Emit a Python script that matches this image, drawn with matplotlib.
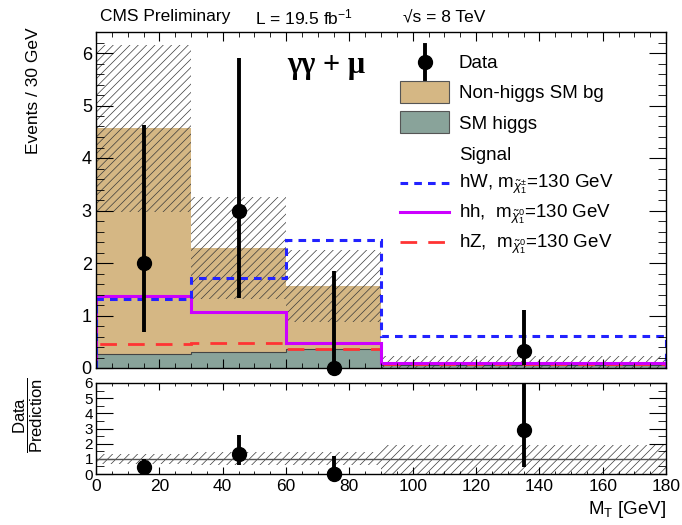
import numpy as np
import matplotlib
matplotlib.use("Agg")
import matplotlib.pyplot as plt
from matplotlib.patches import Rectangle
from matplotlib.lines import Line2D
from matplotlib.ticker import MultipleLocator

plt.rcParams['font.family'] = ['Liberation Sans', 'DejaVu Sans']
plt.rcParams['mathtext.fontset'] = 'custom'
plt.rcParams['mathtext.rm'] = 'Liberation Sans'
plt.rcParams['mathtext.it'] = 'Liberation Sans:italic'
plt.rcParams['hatch.linewidth'] = 0.5

# M_T binning (GeV)
edges = np.array([0, 30, 60, 90, 180])
centers = np.array([15, 45, 75, 135])

# backgrounds, events / 30 GeV
sm_higgs = np.array([0.27, 0.30, 0.36, 0.05])
non_higgs = np.array([4.31, 1.99, 1.21, 0.065])
unc_lo = np.array([2.98, 1.31, 0.88, 0.0])
unc_hi = np.array([6.15, 3.26, 2.25, 0.22])

# signal, m = 130 GeV
sig_hw = np.array([1.31, 1.71, 2.43, 0.61])
sig_hh = np.array([1.37, 1.07, 0.47, 0.10])
sig_hz = np.array([0.45, 0.47, 0.36, 0.07])

# observed
data = np.array([2.0, 3.0, 0.0, 0.33])
data_lo = np.array([0.68, 1.34, 0.0, 0.05])
data_hi = np.array([4.63, 5.9, 1.85, 1.1])

tan = '#d5b784'
green = '#89a39a'
blue = '#2222ff'
mag = '#cc00ff'
red = '#ff3333'

fig = plt.figure(figsize=(6.82, 5.25), dpi=100)
W, H = 682.0, 525.0
ax = fig.add_axes([96/W, 1-368/H, 570/W, 336/H])
rax = fig.add_axes([96/W, 1-474/H, 570/W, 91/H])

total = sm_higgs + non_higgs

# stacked backgrounds
ax.stairs(sm_higgs, edges, baseline=0, fill=True, color=green, lw=0)
ax.stairs(total, edges, baseline=sm_higgs, fill=True, color=tan, lw=0)
ax.stairs(sm_higgs, edges, baseline=None, color='#444444', lw=0.8)

# background uncertainty
ax.bar(edges[:-1], unc_hi - unc_lo, width=np.diff(edges), bottom=unc_lo,
       align='edge', fill=False, hatch='////', edgecolor='#3a3a3a', lw=0)

# signals
ax.stairs(sig_hz, edges, baseline=0, color=red, lw=2.0, ls=(0, (6, 4)))
ax.stairs(sig_hh, edges, baseline=0, color=mag, lw=2.2)
ax.stairs(sig_hw, edges, baseline=0, color=blue, lw=2.2, ls=(0, (2.5, 2)))

ax.errorbar(centers, data, yerr=[data - data_lo, data_hi - data], fmt='o',
            color='k', ms=10, elinewidth=2.8, capsize=0, zorder=5, clip_on=False)

ax.set_xlim(0, 180)
ax.set_ylim(0, 6.4)
ax.xaxis.set_major_locator(MultipleLocator(20))
ax.xaxis.set_minor_locator(MultipleLocator(5))
ax.yaxis.set_major_locator(MultipleLocator(1))
ax.yaxis.set_minor_locator(MultipleLocator(0.2))
ax.tick_params(which='both', direction='in', top=True, right=True, labelbottom=False,
               labelsize=13)
ax.tick_params(axis='y', which='major', length=12, pad=3)
ax.tick_params(axis='y', which='minor', length=6)
ax.tick_params(axis='x', which='major', length=6.5)
ax.tick_params(axis='x', which='minor', length=3.5)

# legend, drawn by hand in axes coordinates
def ay(py):
    return (368 - py) / 336.0

def axx(px):
    return (px - 96) / 570.0

hx0, hx1, tx = axx(400), axx(449), axx(459)
ax.add_line(Line2D([axx(425)] * 2, [ay(45), ay(79)], color='k', lw=2.8,
                   transform=ax.transAxes))
ax.add_line(Line2D([axx(425)], [ay(62)], marker='o', ms=10, color='k',
                   transform=ax.transAxes))
for py, col in [(92, tan), (122, green)]:
    ax.add_patch(Rectangle((hx0, ay(py + 11)), hx1 - hx0, ay(py - 11) - ay(py + 11),
                           facecolor=col, edgecolor='#555555', lw=0.8,
                           transform=ax.transAxes))
for py, col, ls, lw in [(183, blue, (0, (2.5, 2)), 2.2), (212, mag, '-', 2.2),
                        (242, red, (0, (6, 4)), 2.0)]:
    ax.add_line(Line2D([hx0, hx1], [ay(py)] * 2, color=col, ls=ls, lw=lw,
                       transform=ax.transAxes))

labels = [(62, 'Data'), (92, 'Non-higgs SM bg'), (122, 'SM higgs'), (153, 'Signal'),
          (180, r'hW, m$_{\tilde{\chi}^{\pm}_{1}}$=130 GeV'),
          (210, r'hh,  m$_{\tilde{\chi}^{0}_{1}}$=130 GeV'),
          (240, r'hZ,  m$_{\tilde{\chi}^{0}_{1}}$=130 GeV')]
for py, s in labels:
    ax.text(tx, ay(py), s, transform=ax.transAxes, fontsize=13.5,
            va='center_baseline', ha='left')

ax.text(axx(287), ay(66), 'γγ + μ', transform=ax.transAxes, fontsize=22,
        family=['Liberation Serif', 'DejaVu Serif'], fontweight='bold',
        va='center', ha='left')

# ratio panel
r_data = data / total
r_lo = data_lo / total
r_hi = data_hi / total
rax.bar(edges[:-1], (unc_hi - unc_lo) / total, width=np.diff(edges),
        bottom=unc_lo / total, align='edge', fill=False, hatch='////',
        edgecolor='#3a3a3a', lw=0)
rax.axhline(1, color='#555555', lw=1)
rax.errorbar(centers, r_data, yerr=[r_data - r_lo, r_hi - r_data], fmt='o',
             color='k', ms=10, elinewidth=2.8, capsize=0, zorder=5, clip_on=True)
rax.plot(centers[2], r_data[2], 'o', color='k', ms=10, clip_on=False, zorder=6)

rax.set_xlim(0, 180)
rax.set_ylim(0, 6)
rax.xaxis.set_major_locator(MultipleLocator(20))
rax.xaxis.set_minor_locator(MultipleLocator(5))
rax.yaxis.set_major_locator(MultipleLocator(1))
rax.yaxis.set_minor_locator(MultipleLocator(0.5))
rax.tick_params(which='both', direction='in', top=True, right=True)
rax.tick_params(axis='y', which='major', length=12, labelsize=11, pad=2)
rax.tick_params(axis='y', which='minor', length=6)
rax.tick_params(axis='x', which='major', length=5, labelsize=12.5)
rax.tick_params(axis='x', which='minor', length=2.5)

for a in (ax, rax):
    for sp in a.spines.values():
        sp.set_linewidth(1.0)

# titles and axis labels
fig.text(100/W, 1-17/H, 'CMS Preliminary', fontsize=12.5, va='center', ha='left')
fig.text(255/W, 1-17/H, r'L = 19.5 fb$^{-1}$', fontsize=12.5, va='center', ha='left')
fig.text(403/W, 1-17/H, '√s = 8 TeV', fontsize=12.5, va='center', ha='left')
fig.text(33/W, 1-27/H, 'Events / 30 GeV', fontsize=12.5, rotation=90,
         va='top', ha='center')
fig.text(28/W, 1-415/H, r'$\dfrac{\mathrm{Data}}{\mathrm{Prediction}}$', fontsize=12,
         rotation=90, va='center', ha='center')
fig.text(666/W, 1-510/H, r'M$_{\mathrm{T}}$ [GeV]', fontsize=13.5, va='center', ha='right')

fig.savefig('out.png', dpi=100)
